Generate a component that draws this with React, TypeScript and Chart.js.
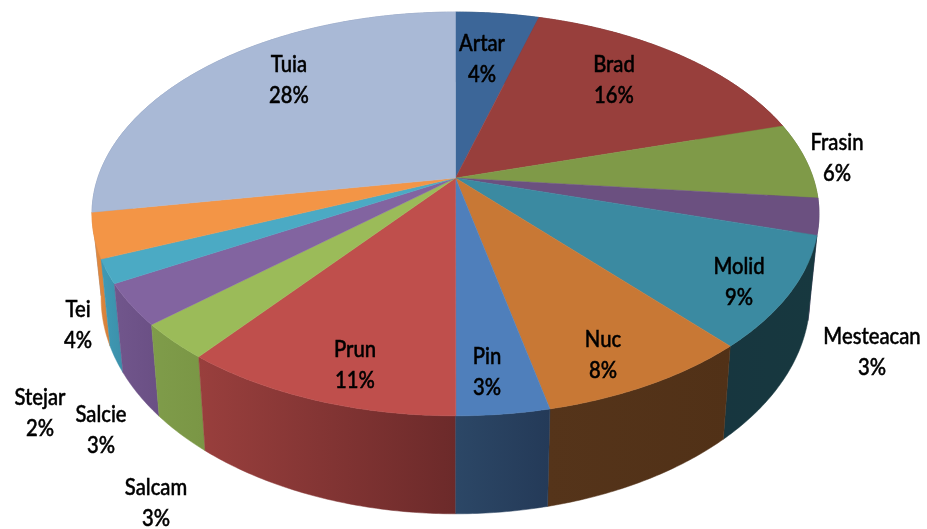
import React, { useEffect, useRef } from "react";
import { Chart, registerables } from "chart.js";

Chart.register(...registerables);

const categories = ["Artar", "Brad", "Frasin", "Mesteacan", "Molid", "Nuc", "Pin", "Prun", "Salcam", "Salcie", "Stejar", "Tei", "Tuia"];
// Shares estimated so that they round to the printed percentages and follow the slice boundaries.
const shares = [4.4, 16.1, 6.1, 2.9, 8.9, 8.1, 3.49, 10.6, 2.9, 3.3, 1.9, 3.6, 27.71];
const topColors = ["#3c6698", "#983f3c", "#7f9a48", "#6b5080", "#3b8aa1", "#c87835", "#4f7fbb", "#bf4f4c", "#9bbb59", "#8264a0", "#4baac4", "#f39546", "#a9b9d6"];
const wallLeft = ["#2a4868", "#6e2c2a", "#5e7235", "#4e3a60", "#17363f", "#55341a", "#2c4766", "#993f3d", "#7f9c4a", "#71568c", "#409ab5", "#e58b3e", "#7f8fae"];
const wallRight = ["#2a4868", "#6e2c2a", "#5e7235", "#4e3a60", "#17383f", "#513117", "#243a58", "#6c2a2a", "#7a9645", "#6a4f84", "#3b90aa", "#d5803a", "#7f8fae"];
const labelCenters = [[482, 44], [614, 65], [837, 143], [872, 337], [739, 267], [603, 340], [487, 357], [355, 350], [156, 488], [101, 415], [40, 398], [78, 310], [289, 65]];

const CX = 455.5, CY = 178, RX = 357.7, RY = 195.5, PERSP = 0.178;
const WALL_X = 0.975, WALL_Y = 1.07, FRONT_TOP = 416, FRONT_BOTTOM = 514;
const LINE = 31, TEXT_SQUEEZE = 0.88;

function top(a: number) {
  const X = Math.sin(a), Y = -Math.cos(a);
  const w = 1 - PERSP * Y;
  return [CX + (RX * X) / w, CY + (RY * Y) / w];
}
function bottom(p: number[]) {
  return [CX + (p[0] - CX) * WALL_X, FRONT_BOTTOM + (p[1] - FRONT_TOP) * WALL_Y];
}
function arcPoints(a0: number, a1: number) {
  const n = Math.max(2, Math.ceil((a1 - a0) / 0.01));
  const pts: number[][] = [];
  for (let i = 0; i <= n; i++) pts.push(top(a0 + ((a1 - a0) * i) / n));
  return pts;
}

const pie3d = {
  id: "pie3d",
  beforeDatasetsDraw(chart: any) {
    const ctx: CanvasRenderingContext2D = chart.ctx;
    const arcs = chart.getDatasetMeta(0).data.map((el: any, i: number) => ({
      i,
      a0: el.startAngle + Math.PI / 2,
      a1: el.endAngle + Math.PI / 2,
      color: el.options.backgroundColor,
    }));
    ctx.save();
    const ordered = [...arcs].sort((p: any, q: any) => -Math.cos((p.a0 + p.a1) / 2) - -Math.cos((q.a0 + q.a1) / 2));
    for (const s of ordered) {
      const pts = arcPoints(s.a0, s.a1);
      const low = pts.map(bottom);
      const xs = pts.concat(low).map((p) => p[0]);
      const g = ctx.createLinearGradient(Math.min(...xs), 0, Math.max(...xs), 0);
      g.addColorStop(0, wallLeft[s.i]);
      g.addColorStop(1, wallRight[s.i]);
      ctx.beginPath();
      pts.forEach((p, k) => (k ? ctx.lineTo(p[0], p[1]) : ctx.moveTo(p[0], p[1])));
      low.reverse().forEach((p) => ctx.lineTo(p[0], p[1]));
      ctx.closePath();
      ctx.fillStyle = g;
      ctx.strokeStyle = g;
      ctx.lineWidth = 0.5;
      ctx.fill();
      ctx.stroke();
    }
    for (const s of arcs) {
      ctx.beginPath();
      ctx.moveTo(CX, CY);
      arcPoints(s.a0, s.a1).forEach((p) => ctx.lineTo(p[0], p[1]));
      ctx.closePath();
      ctx.fillStyle = s.color;
      ctx.strokeStyle = s.color;
      ctx.lineWidth = 0.5;
      ctx.fill();
      ctx.stroke();
    }
    ctx.restore();
    return false;
  },
  afterDraw(chart: any) {
    const ctx: CanvasRenderingContext2D = chart.ctx;
    ctx.save();
    ctx.filter = "blur(0.4px)";
    ctx.font = '500 23px Lato, "Open Sans", sans-serif';
    ctx.fillStyle = "#000000";
    ctx.strokeStyle = "#000000";
    ctx.lineWidth = 0.5;
    ctx.textAlign = "center";
    ctx.textBaseline = "middle";
    const put = (text: string, x: number, y: number) => {
      ctx.setTransform(TEXT_SQUEEZE, 0, 0, 1, x, y);
      ctx.fillText(text, 0, 0);
      ctx.strokeText(text, 0, 0);
    };
    chart.data.labels.forEach((name: string, i: number) => {
      const [x, y] = labelCenters[i];
      put(name, x, y);
      put(`${Math.round(chart.data.datasets[0].data[i])}%`, x, y + LINE);
    });
    ctx.restore();
  },
};

export default function App() {
  const ref = useRef<HTMLCanvasElement>(null);
  useEffect(() => {
    const chart = new Chart(ref.current!, {
      type: "pie",
      data: {
        labels: categories,
        datasets: [{ data: shares, backgroundColor: topColors, borderWidth: 0 }],
      },
      options: {
        responsive: false,
        animation: false,
        plugins: { legend: { display: false }, tooltip: { enabled: false } },
      },
      plugins: [pie3d],
    } as any);
    return () => chart.destroy();
  }, []);
  return (
    <canvas
      ref={ref}
      width={927}
      height={529}
      style={{ position: "absolute", left: 0, top: 0, width: 927, height: 529, background: "#ffffff" }}
    />
  );
}
